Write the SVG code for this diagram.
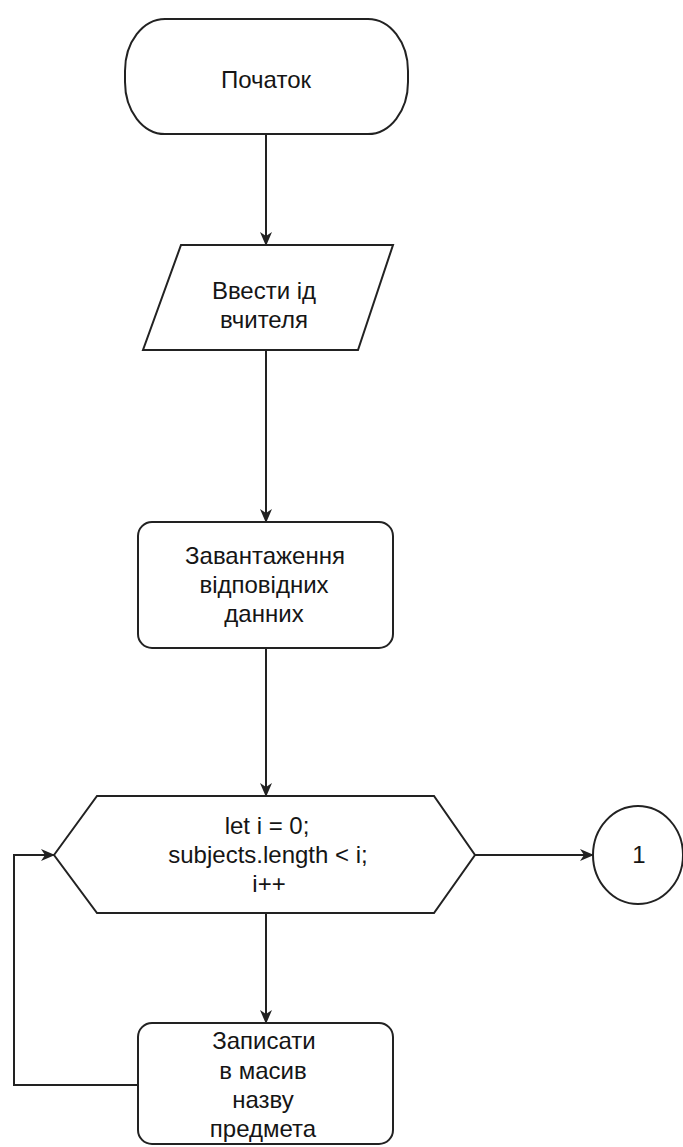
<svg xmlns="http://www.w3.org/2000/svg" width="683" height="1147" viewBox="0 0 683 1147">
  <style>
    .shape { fill: #ffffff; stroke: #222222; stroke-width: 2; }
    .edge { fill: none; stroke: #222222; stroke-width: 2; }
    .label { font-family: "Liberation Sans", Arial, sans-serif; font-size: 24px; fill: #151515; text-anchor: middle; }
  </style>
  <defs>
    <marker id="arrow" viewBox="0 0 14 12" refX="13" refY="6" markerWidth="14" markerHeight="12" markerUnits="userSpaceOnUse" orient="auto">
      <path d="M0,0 L14,6 L0,12 L4,6 Z" fill="#222222"/>
    </marker>
  </defs>
  <rect width="683" height="1147" fill="#ffffff"/>

  <!-- connectors -->
  <g id="connectors">
    <path class="edge" d="M266,134 V245" marker-end="url(#arrow)"/>
    <path class="edge" d="M266,350 V522" marker-end="url(#arrow)"/>
    <path class="edge" d="M266,648 V796" marker-end="url(#arrow)"/>
    <path class="edge" d="M266,913 V1023" marker-end="url(#arrow)"/>
    <path class="edge" d="M475,855 H593" marker-end="url(#arrow)"/>
    <path class="edge" d="M138,1085 H14 V855 H54" marker-end="url(#arrow)"/>
  </g>

  <!-- start terminator -->
  <g id="start">
    <rect class="shape" x="125" y="19" width="283" height="115" rx="40" ry="52"/>
    <text class="label" x="266" y="88">Початок</text>
  </g>

  <!-- input -->
  <g id="input-teacher">
    <polygon class="shape" points="181,245 393,245 358,350 143,350"/>
    <text class="label" x="264" y="299">Ввести ід</text>
    <text class="label" x="264" y="328">вчителя</text>
  </g>

  <!-- load data -->
  <g id="load-data">
    <rect class="shape" x="138" y="522" width="255" height="126" rx="14" ry="14"/>
    <text class="label" x="265" y="564">Завантаження</text>
    <text class="label" x="264" y="593">відповідних</text>
    <text class="label" x="264" y="622">данних</text>
  </g>

  <!-- loop header -->
  <g id="loop">
    <polygon class="shape" points="54,855 97,796 434,796 475,855 434,913 97,913"/>
    <text class="label" x="267" y="834">let i = 0;</text>
    <text class="label" x="268" y="863">subjects.length &lt; i;</text>
    <text class="label" x="269" y="892">i++</text>
  </g>

  <!-- off-page connector -->
  <g id="connector-1">
    <ellipse class="shape" cx="638" cy="855" rx="45" ry="49"/>
    <text class="label" x="639" y="863">1</text>
  </g>

  <!-- loop body -->
  <g id="write-array">
    <rect class="shape" x="138" y="1023" width="255" height="121" rx="14" ry="14"/>
    <text class="label" x="264" y="1049">Записати</text>
    <text class="label" x="263" y="1079">в масив</text>
    <text class="label" x="263" y="1108">назву</text>
    <text class="label" x="263" y="1137">предмета</text>
  </g>
</svg>
